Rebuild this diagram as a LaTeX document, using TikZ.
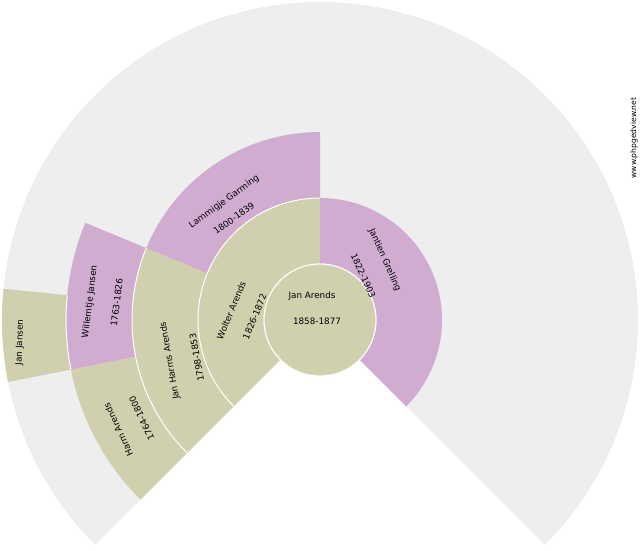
\documentclass[tikz,border=0pt]{standalone}
\usepackage{fontspec}
\newfontfamily\fanfont{DejaVu Sans}
\definecolor{fangrey}{HTML}{EEEEEE}
\definecolor{fanmale}{HTML}{D0D0AE}
\definecolor{fanfemale}{HTML}{D1ACD1}
\tikzset{
  person/.style={font=\fanfont\fontsize{8.8}{10}\selectfont, inner sep=0pt},
  seam/.style={white, line width=1pt},
}
% colour, start angle, end angle, inner radius, outer radius
\newcommand{\fansector}[5]{%
  \fill[#1] (#2:#4) arc[start angle=#2, end angle=#3, radius=#4]
    -- (#3:#5) arc[start angle=#3, end angle=#2, radius=#5] -- cycle;
  \draw[seam] (#2:#4) arc[start angle=#2, end angle=#3, radius=#4];
}

\begin{document}
\begin{tikzpicture}[x=1pt, y=1pt]
    \useasboundingbox (0,0) rectangle (640,-550);
    \begin{scope}[shift={(320,-320)}]
      \fill[fangrey] (0,0) -- (-45:318) arc[start angle=-45, end angle=225, radius=318] -- cycle;
      \fansector{fanmale}{90}{225}{56}{122}
      \fansector{fanfemale}{-45}{90}{56}{122}
      \fansector{fanmale}{157.5}{225}{122}{188}
      \fansector{fanfemale}{90}{157.5}{122}{188}
      \fansector{fanmale}{191.25}{225}{188}{254}
      \fansector{fanfemale}{157.5}{191.25}{188}{254}
      \fansector{fanmale}{174.375}{191.25}{254}{318}
      \fill[fanmale] (0,0) circle[radius=56];
      \draw[seam] (0,0) circle[radius=56];
    \end{scope}

    \node[person] (jan) at (312,-296) {Jan Arends};
    \node[person] (jan-d) at (317,-321) {1858-1877};
    \node[person, rotate=67.5] (wolter) at (231.3,-310.5) {Wolter Arends};
    \node[person, rotate=67.5] (wolter-d) at (254.7,-316.7) {1826-1872};
    \node[person, rotate=-66] (jantien) at (384.7,-260) {Jantien Grelling};
    \node[person, rotate=-66] (jantien-d) at (363.3,-275.8) {1822-1903};
    \node[person, rotate=36] (lammigje) at (224.2,-201.7) {Lammigje Garming};
    \node[person, rotate=36] (lammigje-d) at (234,-218.3) {1800-1839};
    \node[person, rotate=100] (janharms) at (170,-360.8) {Jan Harms Arends};
    \node[person, rotate=100] (janharms-d) at (196.7,-357.5) {1798-1853};
    \node[person, rotate=83] (willemtje) at (90,-301.7) {Willemtje Jansen};
    \node[person, rotate=83] (willemtje-d) at (116.7,-302.5) {1763-1826};
    \node[person, rotate=115] (harm) at (118.3,-430) {Harm Arends};
    \node[person, rotate=115] (harm-d) at (141.7,-418.3) {1764-1800};
    \node[person, rotate=88] (janjansen) at (20,-342.5) {Jan Jansen};
    \node[person, font=\fanfont\fontsize{7.6}{8}\selectfont, rotate=90] (site) at (634,-138) {www.phpgedview.net};
\end{tikzpicture}
\end{document}
